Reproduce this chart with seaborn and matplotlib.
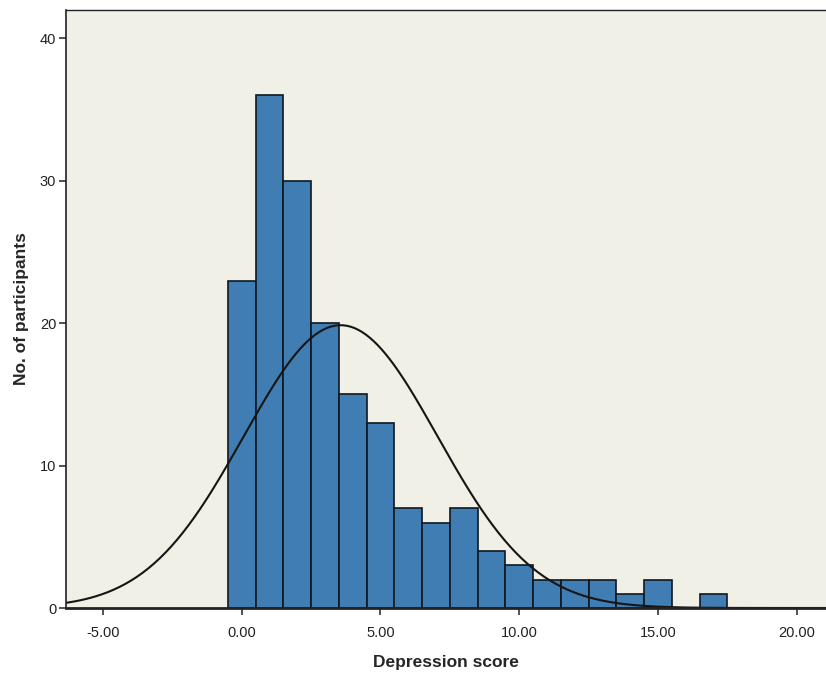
import numpy as np
import pandas as pd
import matplotlib
matplotlib.use("Agg")
import matplotlib.pyplot as plt
import seaborn as sns

# Data
scores = list(range(0, 18))
counts = [23, 36, 30, 20, 15, 13, 7, 6, 7, 4, 3, 2, 2, 2, 1, 2, 0, 1]
xticks = [-5, 0, 5, 10, 15, 20]
yticks = [0, 10, 20, 30, 40]

sns.set_style("white")
plt.rcParams['font.family'] = ['Liberation Sans', 'DejaVu Sans']

df = pd.DataFrame({"Depression score": np.repeat(scores, counts)})

fig = plt.figure(figsize=(8.26, 6.73), dpi=100)
ax = fig.add_axes([66/826, 65/673, 1 - 66/826, (608 - 10)/673])
ax.set_facecolor("#f0f0e7")

sns.histplot(data=df, x="Depression score", bins=np.arange(-0.5, 18.5, 1.0),
             color="#3f7db3", alpha=1.0, edgecolor="#101820", linewidth=1.2, ax=ax)

# Normal curve fitted to the data
vals = df["Depression score"].to_numpy()
m, s, n = vals.mean(), vals.std(ddof=1), len(vals)
xs = np.linspace(-6.4, 21.1, 400)
ys = n * 1.0 / (s * np.sqrt(2 * np.pi)) * np.exp(-(xs - m) ** 2 / (2 * s ** 2))
sns.lineplot(x=xs, y=ys, color="#151515", linewidth=1.5, ax=ax)

ax.set_xlim(-6.33, 21.05)
ax.set_ylim(0, 42)
ax.set_xticks(xticks)
ax.set_xticklabels([f"{v:.2f}" for v in xticks], fontsize=10.5, color="#222222")
ax.set_yticks(yticks)
ax.set_yticklabels([str(v) for v in yticks], fontsize=10.5, color="#222222")
ax.tick_params(axis="both", direction="out", length=5, width=1.2, color="#333333",
               bottom=True, left=True)
ax.tick_params(axis="x", pad=8)
ax.tick_params(axis="y", pad=2)
ax.set_xlabel("Depression score", fontsize=12.5, fontweight="bold", labelpad=11)
ax.set_ylabel("No. of participants", fontsize=12.5, fontweight="bold", labelpad=8)

for side in ["left", "bottom", "top"]:
    ax.spines[side].set_visible(True)
    ax.spines[side].set_color("#222222")
ax.spines["left"].set_linewidth(1.2)
ax.spines["bottom"].set_linewidth(2.0)
ax.spines["top"].set_linewidth(1.0)
ax.spines["right"].set_visible(False)

fig.savefig("out.png", dpi=100, facecolor="white")
